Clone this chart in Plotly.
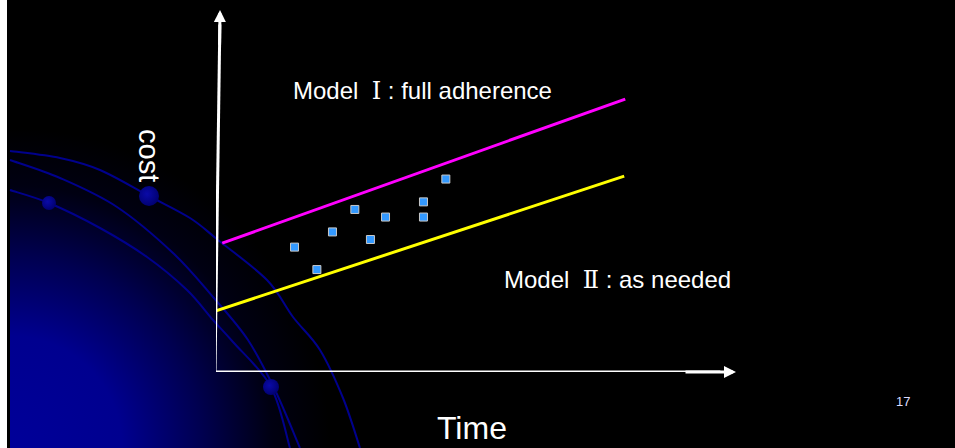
import base64
import plotly.graph_objects as go

# ---- chart data (arbitrary units, 0-100 on both axes) ----
time_range = [0, 100]
cost_range = [0, 100]

# Model I: full adherence (upper line)
model1_time = [1.2, 78.7]
model1_cost = [35.6, 75.4]

# Model II: as needed (lower line)
model2_time = [0.0, 78.5]
model2_cost = [16.9, 54.1]

# observed cost points between the two models
obs_time = [15.1, 19.4, 22.4, 26.7, 29.7, 32.6, 39.9, 39.9, 44.2]
obs_cost = [34.5, 28.3, 38.7, 44.9, 36.6, 42.8, 47.0, 42.8, 53.3]

NUMERAL = "<span style='font-family:\"DejaVu Serif\", serif'>{}</span>"
label_model1 = "Model&nbsp; " + NUMERAL.format("Ⅰ") + " : full adherence"
label_model2 = "Model&nbsp; " + NUMERAL.format("Ⅱ") + " : as needed"
label_x = "Time"
label_y = "cost"
page_number = "17"

# ---- canvas ----
W, H = 955, 448
X0_PX, X1_PX = 216, 736     # horizontal extent of the axis frame
Y0_PX, Y1_PX = 372, 10      # vertical extent of the axis frame (bottom, top)

FONT = "Arial, 'Liberation Sans', 'Noto Sans CJK SC', sans-serif"


def smooth_path(pts):
    """Catmull-Rom spline through pts, returned as an SVG cubic path."""
    d = "M{},{}".format(*pts[0])
    n = len(pts)
    for i in range(n - 1):
        p0 = pts[i - 1] if i > 0 else pts[i]
        p1, p2 = pts[i], pts[i + 1]
        p3 = pts[i + 2] if i + 2 < n else p2
        c1 = (p1[0] + (p2[0] - p0[0]) / 6, p1[1] + (p2[1] - p0[1]) / 6)
        c2 = (p2[0] - (p3[0] - p1[0]) / 6, p2[1] - (p3[1] - p1[1]) / 6)
        d += " C{:.1f},{:.1f} {:.1f},{:.1f} {},{}".format(*c1, *c2, *p2)
    return d


# slide backdrop: glowing blue planet in the lower-left corner with orbit arcs
arcs = [
    [(10, 151), (60, 158), (100, 170), (149, 196), (190, 218), (218, 240),
     (267, 280), (293, 317), (320, 350), (343, 398), (360, 448)],
    [(10, 160), (60, 178), (117, 207), (173, 253), (213, 297), (248, 340),
     (275, 390), (300, 448)],
    [(10, 190), (49, 203), (100, 228), (147, 257), (187, 290), (213, 320),
     (233, 342), (271, 387), (290, 448)],
]
dots = [(149, 196, 10), (49, 203, 7), (271, 387, 8)]

svg = [
    f'<svg xmlns="http://www.w3.org/2000/svg" width="{W}" height="{H}" viewBox="0 0 {W} {H}">',
    '<defs>',
    '<radialGradient id="glow" cx="10" cy="448" r="320" gradientUnits="userSpaceOnUse">',
    '<stop offset="0" stop-color="#000099"/>',
    '<stop offset="0.35" stop-color="#00008f"/>',
    '<stop offset="0.6" stop-color="#000050"/>',
    '<stop offset="0.82" stop-color="#000012"/>',
    '<stop offset="1" stop-color="#000000"/>',
    '</radialGradient>',
    '<radialGradient id="ball" cx="0.4" cy="0.4" r="0.65">',
    '<stop offset="0" stop-color="#0a0aa8"/>',
    '<stop offset="1" stop-color="#00006e"/>',
    '</radialGradient>',
    '</defs>',
    f'<rect x="0" y="0" width="{W}" height="{H}" fill="#000000"/>',
    f'<rect x="10" y="0" width="{W - 10}" height="{H}" fill="url(#glow)"/>',
    f'<rect x="0" y="0" width="7" height="{H}" fill="#ffffff"/>',
]
for a in arcs:
    svg.append(f'<path d="{smooth_path(a)}" fill="none" stroke="#00008c" stroke-width="2"/>')
for cx, cy, r in dots:
    svg.append(f'<circle cx="{cx}" cy="{cy}" r="{r}" fill="url(#ball)"/>')
svg.append('</svg>')
backdrop = "data:image/svg+xml;base64," + base64.b64encode("".join(svg).encode()).decode()

fig = go.Figure()

fig.add_trace(go.Scatter(
    x=model1_time, y=model1_cost, mode="lines",
    line=dict(color="#ff00ff", width=3), hoverinfo="skip", cliponaxis=False,
))
fig.add_trace(go.Scatter(
    x=model2_time, y=model2_cost, mode="lines",
    line=dict(color="#ffff00", width=3), hoverinfo="skip", cliponaxis=False,
))
fig.add_trace(go.Scatter(
    x=obs_time, y=obs_cost, mode="markers",
    marker=dict(symbol="square", size=8, color="#3399ff",
                line=dict(color="#c8c8c8", width=1)),
    cliponaxis=False,
))

# axis frame: white lines with arrow heads
fig.add_shape(type="line", xref="x", yref="y", x0=-0.35, y0=0, x1=97, y1=0,
              line=dict(color="white", width=3))
fig.add_shape(type="line", xref="x", yref="y", x0=-0.2, y0=-0.4, x1=0.74, y1=96,
              line=dict(color="white", width=3))

arrow = dict(text="", showarrow=True, arrowhead=2, arrowsize=0.8, arrowwidth=3,
             arrowcolor="white", standoff=0, axref="x", ayref="y", xref="x", yref="y")
fig.add_annotation(x=time_range[1], y=0, ax=90, ay=0, **arrow)
fig.add_annotation(x=0.77, y=cost_range[1], ax=0.69, ay=90, **arrow)

# text labels
fig.add_annotation(x=14.4, y=77.7, xref="x", yref="y", text=label_model1, showarrow=False,
                   xanchor="left", yanchor="middle", font=dict(family=FONT, size=24, color="white"))
fig.add_annotation(x=55.0, y=25.4, xref="x", yref="y", text=label_model2, showarrow=False,
                   xanchor="left", yanchor="middle", font=dict(family=FONT, size=24, color="white"))
fig.add_annotation(x=149 / W, y=1 - 155 / H, xref="paper", yref="paper", text=label_y,
                   showarrow=False, textangle=90, xanchor="center", yanchor="middle",
                   font=dict(family=FONT, size=29, color="white"))
fig.add_annotation(x=472 / W, y=1 - 428 / H, xref="paper", yref="paper", text=label_x,
                   showarrow=False, xanchor="center", yanchor="middle",
                   font=dict(family=FONT, size=32, color="white"))
fig.add_annotation(x=903 / W, y=1 - 401.5 / H, xref="paper", yref="paper", text=page_number,
                   showarrow=False, xanchor="center", yanchor="middle",
                   font=dict(family=FONT, size=13, color="#dcdcff"))

fig.add_layout_image(dict(source=backdrop, xref="paper", yref="paper", x=0, y=1,
                          sizex=1, sizey=1, sizing="stretch", xanchor="left",
                          yanchor="top", layer="below"))

fig.update_layout(
    width=W, height=H, autosize=False,
    margin=dict(l=0, r=0, t=0, b=0, pad=0),
    paper_bgcolor="black", plot_bgcolor="rgba(0,0,0,0)",
    showlegend=False,
    xaxis=dict(range=time_range, domain=[X0_PX / W, X1_PX / W], visible=False, fixedrange=True),
    yaxis=dict(range=cost_range, domain=[(H - Y0_PX) / H, (H - Y1_PX) / H], visible=False,
               fixedrange=True),
)

fig.write_html("out.html", config={"displayModeBar": False})
